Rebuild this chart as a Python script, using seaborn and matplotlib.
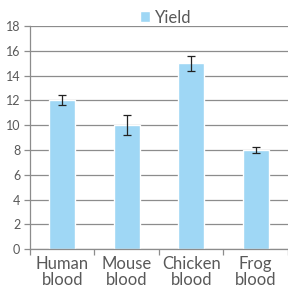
import numpy as np
import pandas as pd
import seaborn as sns
import matplotlib.pyplot as plt

categories = ['Human\nblood', 'Mouse\nblood', 'Chicken\nblood', 'Frog\nblood']
yield_values = [12, 10, 15, 8]
yield_err = [0.4, 0.8, 0.6, 0.25]

df = pd.DataFrame({'sample': categories, 'Yield': yield_values, 'err': yield_err})

sns.set_style('white')
plt.rcParams['font.family'] = ['Lato', 'DejaVu Sans']
text_color = '#595959'
bar_color = '#9fd7f5'

fig = plt.figure(figsize=(2.88, 2.90), dpi=100)
ax = fig.add_axes([0.104, 0.141, 0.896, 0.769])

sns.barplot(data=df, x='sample', y='Yield', color=bar_color, width=0.4,
            saturation=1, label='Yield', ax=ax, zorder=2)
ax.errorbar(np.arange(len(df)), df['Yield'], yerr=df['err'], fmt='none',
            ecolor='#222222', elinewidth=0.9, capsize=3, capthick=0.9, zorder=3)

ax.set_ylim(0, 18)
ax.set_xlim(-0.5, 3.5)
ax.set_yticks(range(0, 19, 2))
ax.yaxis.grid(True, color='#8c8c8c', linewidth=0.9, zorder=0)
ax.set_axisbelow(True)
ax.set_xlabel('')
ax.set_ylabel('')

for s in ['top', 'right']:
    ax.spines[s].set_visible(False)
for s in ['left', 'bottom']:
    ax.spines[s].set_color('#8c8c8c')
    ax.spines[s].set_linewidth(0.9)

ax.tick_params(axis='y', labelsize=9, colors=text_color, length=4, width=0.9,
               color='#8c8c8c', pad=3, left=True)
ax.set_xticks(np.arange(len(categories)))
ax.set_xticklabels(categories, fontsize=12, color=text_color, linespacing=1.0)
ax.tick_params(axis='x', which='major', length=0, pad=5)
ax.set_xticks(np.arange(-0.5, 3.6, 1), minor=True)
ax.tick_params(axis='x', which='minor', length=4, width=0.9, color='#8c8c8c',
               bottom=True)

leg = ax.legend(loc='center', bbox_to_anchor=(0.525, 1.038), frameon=False,
                fontsize=12, handlelength=0.6, handleheight=0.6, handletextpad=0.3,
                borderpad=0)
for t in leg.get_texts():
    t.set_color(text_color)

fig.savefig('out.png', dpi=100)
